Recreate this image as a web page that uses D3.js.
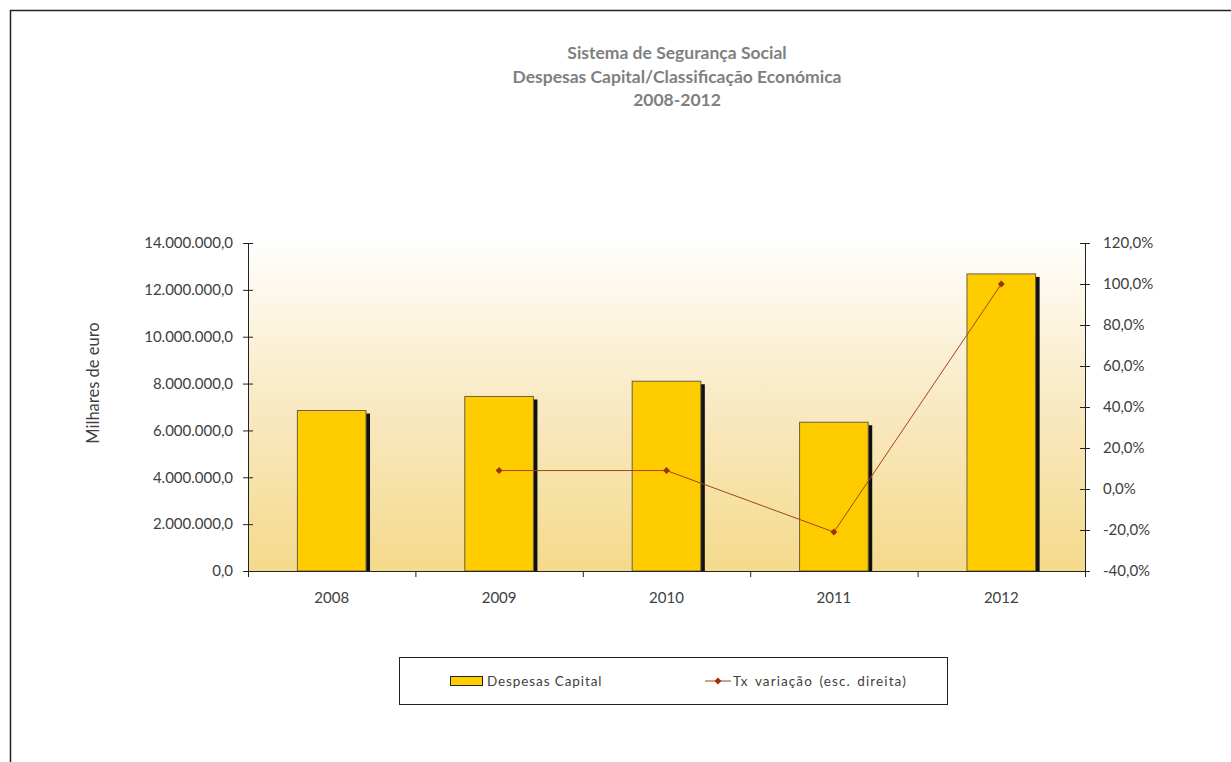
<!DOCTYPE html>
<html><head><meta charset="utf-8">
<script src="https://cdn.jsdelivr.net/npm/d3@7"></script>
<style>
html,body{margin:0;padding:0;background:#fff;}
svg{display:block;font-family:Lato,"Open Sans",sans-serif;}
</style></head>
<body>
<svg id="c" width="1231" height="762"></svg>
<script>
const years = ["2008","2009","2010","2011","2012"];
const despesas = [6850000, 7450000, 8100000, 6350000, 12680000];
const txVariacao = [null, 9.0, 9.0, -21.0, 100.0];
const leftTicks = [0,2000000,4000000,6000000,8000000,10000000,12000000,14000000];
const rightTicks = [-40,-20,0,20,40,60,80,100,120];
const titleLines = ["Sistema de Segurança Social","Despesas Capital/Classificação Económica","2008-2012"];

const svg = d3.select("#c");
const L = 248, R = 1085, T = 243, B = 571;

svg.append("path").attr("d","M10.5,762 L10.5,10.5 L1231,10.5").attr("fill","none").attr("stroke","#222").attr("stroke-width",1.5);

const defs = svg.append("defs");
const g = defs.append("linearGradient").attr("id","bg").attr("x1",0).attr("y1",0).attr("x2",0).attr("y2",1);
g.append("stop").attr("offset","0%").attr("stop-color","#fffefb");
g.append("stop").attr("offset","50%").attr("stop-color","#f9e9c2");
g.append("stop").attr("offset","100%").attr("stop-color","#f4da8c");
svg.append("rect").attr("x",L).attr("y",T).attr("width",R-L).attr("height",B-T).attr("fill","url(#bg)");

const x = d3.scaleBand().domain(years).range([L,R]).paddingInner(0.59).paddingOuter(0.295);
const xb = d3.scaleBand().domain(years).range([L,R]);
const yL = d3.scaleLinear().domain([0,14000000]).range([B,T]);
const yR = d3.scaleLinear().domain([-40,120]).range([B,T]);

const fmtL = v => { const s = d3.format(",.1f")(v); return s.replace(/,/g,"#").replace(".",",").replace(/#/g,"."); };
const fmtR = v => d3.format(".1f")(v).replace(".",",").replace("−","-") + "%";

svg.append("g").selectAll("rect").data(years).join("rect")
  .attr("x",(d,i)=>x(d)+4).attr("y",(d,i)=>yL(despesas[i])+3)
  .attr("width",x.bandwidth()).attr("height",(d,i)=>B-yL(despesas[i])-3)
  .attr("fill","#111");
svg.append("g").selectAll("rect").data(years).join("rect")
  .attr("x",d=>x(d)).attr("y",(d,i)=>yL(despesas[i]))
  .attr("width",x.bandwidth()).attr("height",(d,i)=>B-yL(despesas[i]))
  .attr("fill","#ffcc00").attr("stroke","#6b6040").attr("stroke-width",1);

const axL = svg.append("g").attr("transform",`translate(${L},0)`)
  .call(d3.axisLeft(yL).tickValues(leftTicks).tickFormat(fmtL).tickSizeInner(5).tickSizeOuter(0).tickPadding(10));
axL.selectAll(".tick line").attr("x1",5);
const axR = svg.append("g").attr("transform",`translate(${R},0)`)
  .call(d3.axisRight(yR).tickValues(rightTicks).tickFormat(fmtR).tickSizeInner(5).tickSizeOuter(0).tickPadding(13));
axR.selectAll(".tick line").attr("x1",-5);
const axB = svg.append("g").attr("transform",`translate(0,${B})`)
  .call(d3.axisBottom(xb).tickSize(0).tickPadding(32));
svg.append("g").selectAll("line").data(years).join("line")
  .attr("x1",d=>xb(d)+0.5).attr("x2",d=>xb(d)+0.5).attr("y1",B).attr("y2",B+6).attr("stroke","#222");
svg.append("line").attr("x1",R+0.5).attr("x2",R+0.5).attr("y1",B).attr("y2",B+6).attr("stroke","#222");
[axL,axR,axB].forEach(a=>{
  a.select(".domain").attr("stroke","#222");
  a.selectAll(".tick line").attr("stroke","#222");
  a.selectAll("text").attr("font-size",15).attr("fill","#404040").attr("font-family","Lato,'Open Sans',sans-serif");
});
axB.selectAll("text").attr("dy","0");

const pts = years.map((d,i)=>({d, v: txVariacao[i]})).filter(p=>p.v!==null);
svg.append("path").datum(pts)
  .attr("d", d3.line().x(p=>xb(p.d)+xb.bandwidth()/2).y(p=>yR(p.v)))
  .attr("fill","none").attr("stroke","#a0471c").attr("stroke-width",1);
svg.append("g").selectAll("path").data(pts).join("path")
  .attr("transform",p=>`translate(${xb(p.d)+xb.bandwidth()/2},${yR(p.v)})`)
  .attr("d", d3.symbol().type(d3.symbolDiamond2).size(30))
  .attr("fill","#993300");

svg.append("text").attr("x",677).attr("y",59).attr("text-anchor","middle")
  .attr("font-weight","bold").attr("font-size",17.5).attr("fill","#7f7f7f")
  .selectAll("tspan").data(titleLines).join("tspan")
  .attr("x",677).attr("dy",(d,i)=>i===0?0:23.5).text(d=>d);

svg.append("text").attr("transform","translate(99,383) rotate(-90)").attr("text-anchor","middle")
  .attr("font-size",16.5).attr("fill","#404040").text("Milhares de euro");

svg.append("rect").attr("x",399.5).attr("y",657.5).attr("width",548).attr("height",47).attr("fill","#fff").attr("stroke","#222").attr("stroke-width",1);
svg.append("rect").attr("x",450.5).attr("y",676.5).attr("width",32).attr("height",9).attr("fill","#ffcc00").attr("stroke","#222");
svg.append("text").attr("x",487).attr("y",686).attr("font-size",13.5).attr("fill","#404040").attr("letter-spacing","0.9px").text("Despesas Capital");
svg.append("line").attr("x1",705).attr("x2",731).attr("y1",681).attr("y2",681).attr("stroke","#a0471c");
svg.append("path").attr("transform","translate(718,681)").attr("d",d3.symbol().type(d3.symbolDiamond2).size(30)).attr("fill","#993300");
svg.append("text").attr("x",733).attr("y",686).attr("font-size",13.5).attr("fill","#404040").attr("letter-spacing","1.1px").attr("word-spacing","2px").text("Tx variação (esc. direita)");
</script>
</body></html>
